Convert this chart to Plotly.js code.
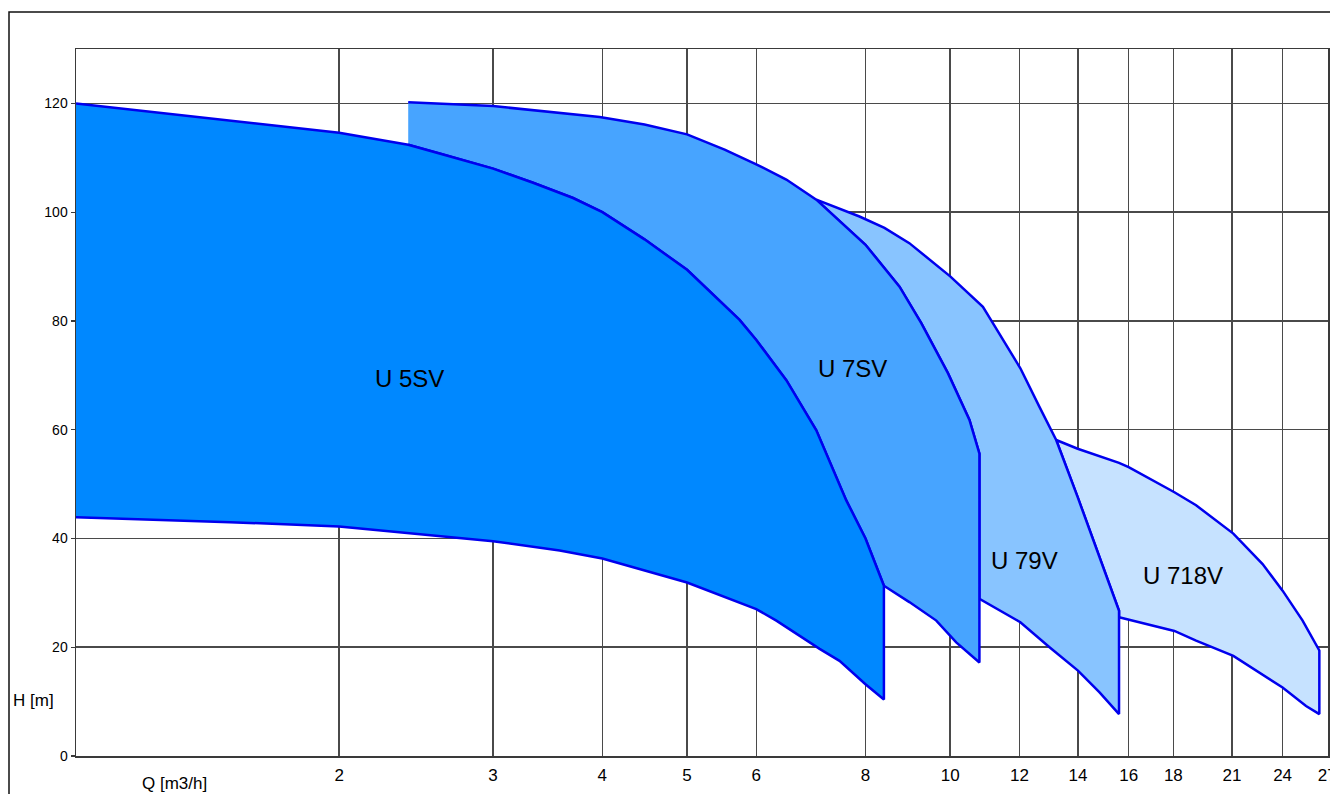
<!DOCTYPE html>
<html>
<head>
<meta charset="utf-8">
<script src="https://cdn.plot.ly/plotly-3.0.1.min.js"></script>
<style>
  html, body { margin: 0; padding: 0; background: #fff; }
  #chart { width: 1330px; height: 794px; }
</style>
</head>
<body>
<div id="chart"></div>
<script>
// ---- data (Q in m3/h, H in m) ----
const xTickVals = [2, 3, 4, 5, 6, 8, 10, 12, 14, 16, 18, 21, 24, 27];
const yTickVals = [0, 20, 40, 60, 80, 100, 120];

const q5Top = [1.0, 1.594, 2.0, 2.399, 2.607, 3.0, 3.333, 3.703, 4.0, 4.47, 5.0, 5.742, 6.0, 6.494, 7.028, 7.605, 8.0, 8.398];
const h5Top = [120, 116.4, 114.6, 112.4, 110.8, 108.0, 105.4, 102.6, 100.0, 95.0, 89.4, 80.2, 76.5, 69.1, 59.9, 47.0, 40.0, 31.3];
const q5Bot = [1.0, 1.5, 2.0, 3.0, 3.575, 4.0, 5.0, 6.0, 6.326, 7.09, 7.471, 8.0, 8.398];
const h5Bot = [43.9, 43.0, 42.2, 39.5, 37.8, 36.3, 31.9, 27.0, 24.9, 19.7, 17.5, 13.2, 10.4];

const q7Top = [2.399, 3.0, 3.972, 4.47, 5.0, 5.52, 6.0, 6.494, 7.028, 8.0, 8.75, 9.266, 9.94, 10.52, 10.8];
const h7Top = [120.2, 119.5, 117.5, 116.1, 114.3, 111.5, 108.8, 106.0, 102.3, 94.0, 86.3, 79.6, 70.4, 61.8, 55.6];
const q7Bot = [8.398, 8.98, 9.64, 10.16, 10.8];
const h7Bot = [31.3, 28.3, 24.9, 20.9, 17.2];

const q79Top = [7.028, 7.875, 8.41, 8.98, 10.0, 10.9, 11.19, 12.03, 12.65, 13.22, 13.99, 14.55, 15.6];
const h79Top = [102.3, 99.2, 97.1, 94.3, 88.2, 82.6, 79.6, 71.3, 64.2, 58.1, 47.6, 40.2, 26.7];
const q79Bot = [10.8, 12.03, 12.99, 14.0, 14.82, 15.6];
const h79Bot = [28.9, 24.6, 20.0, 15.7, 11.7, 7.7];

const q718Top = [13.22, 13.99, 15.6, 16.0, 18.05, 19.11, 21.08, 22.77, 24.0, 25.3, 26.44];
const h718Top = [58.1, 56.5, 53.9, 53.1, 48.5, 46.1, 40.9, 35.3, 30.4, 24.9, 19.4];
const q718Bot = [15.6, 16.0, 18.05, 19.11, 21.08, 24.0, 25.53, 26.44];
const h718Bot = [25.5, 25.0, 23.0, 21.2, 18.4, 12.6, 9.2, 7.7];

const labelNames = ['U 5SV', 'U 7SV', 'U 79V', 'U 718V'];
const labelQ = [2.41, 7.73, 12.16, 18.48];
const labelH = [69.5, 71.2, 35.9, 33.2];

// ---- helpers ----
function seg(q, h, qa, qb) {
  const xs = [], ys = [];
  for (let i = 0; i < q.length; i++) {
    if (q[i] >= qa - 1e-6 && q[i] <= qb + 1e-6) { xs.push(q[i]); ys.push(h[i]); }
  }
  return [xs, ys];
}
function rev(a) { return a.slice().reverse(); }

// polygons
const p5x = q5Top.concat(rev(q5Bot));
const p5y = h5Top.concat(rev(h5Bot));

const s5 = seg(q5Top, h5Top, q7Top[0], q7Bot[0]);
const p7x = q7Top.concat(rev(q7Bot), rev(s5[0]));
const p7y = h7Top.concat(rev(h7Bot), rev(s5[1]));

const s7 = seg(q7Top, h7Top, q79Top[0], q79Bot[0]);
const p79x = q79Top.concat(rev(q79Bot), rev(s7[0]));
const p79y = h79Top.concat(rev(h79Bot), rev(s7[1]));

const s79 = seg(q79Top, h79Top, q718Top[0], q718Bot[0]);
const p718x = q718Top.concat(rev(q718Bot), rev(s79[0]));
const p718y = h718Top.concat(rev(h718Bot), rev(s79[1]));

const lineCol = '#0000EE';
function poly(x, y, fill) {
  return {
    type: 'scatter', mode: 'lines', x: x, y: y,
    fill: 'toself', fillcolor: fill,
    line: { color: lineCol, width: 2.5 },
    hoverinfo: 'skip', showlegend: false
  };
}

const traces = [
  poly(p718x, p718y, '#C6E2FF'),
  poly(p79x, p79y, '#88C4FF'),
  poly(p7x, p7y, '#47A4FF'),
  poly(p5x, p5y, '#0088FF')
];

const font = 'Liberation Sans, Arial, Helvetica, sans-serif';
const annotations = labelNames.map((t, i) => ({
  text: t, x: Math.log10(labelQ[i]), y: labelH[i], xref: 'x', yref: 'y',
  showarrow: false, xanchor: 'center', yanchor: 'middle',
  font: { family: font, size: 24, color: '#000' }
}));
annotations.push({
  text: 'H [m]', xref: 'paper', yref: 'paper', x: (33 - 76) / 1252, y: (756 - 700) / 707,
  showarrow: false, xanchor: 'center', yanchor: 'middle',
  font: { family: font, size: 17, color: '#000' }
});
annotations.push({
  text: 'Q [m3/h]', xref: 'paper', yref: 'paper', x: (174 - 76) / 1252, y: (756 - 783) / 707,
  showarrow: false, xanchor: 'center', yanchor: 'middle',
  font: { family: font, size: 17, color: '#000' }
});

const layout = {
  width: 1330, height: 794,
  margin: { l: 76, r: 2, t: 49, b: 38, pad: 0 },
  paper_bgcolor: '#fff', plot_bgcolor: '#fff',
  showlegend: false,
  xaxis: {
    type: 'log', range: [0, Math.log10(27.05)],
    tickmode: 'array', tickvals: xTickVals, ticktext: xTickVals.map(String),
    ticks: 'outside', ticklen: 3, tickcolor: 'rgba(0,0,0,0)',
    ticklabeloverflow: 'allow',
    showgrid: true, gridcolor: '#4a4a4a', gridwidth: 1.5,
    showline: true, mirror: true, linecolor: '#3a3a3a', linewidth: 1.5,
    zeroline: false, tickfont: { family: font, size: 17, color: '#000' }
  },
  yaxis: {
    range: [0, 130],
    tickmode: 'array', tickvals: yTickVals, ticktext: yTickVals.map(String),
    ticks: 'outside', ticklen: 4, tickcolor: '#3a3a3a', tickwidth: 1.2,
    showgrid: true, gridcolor: '#4a4a4a', gridwidth: 1.5,
    showline: true, mirror: true, linecolor: '#3a3a3a', linewidth: 1.5,
    zeroline: false, tickfont: { family: font, size: 14, color: '#000' }
  },
  annotations: annotations,
  shapes: [{
    type: 'rect', xref: 'paper', yref: 'paper',
    x0: (9 - 76) / 1252, x1: 1.2, y0: -0.3, y1: (756 - 12) / 707,
    line: { color: '#111', width: 1.5 }, fillcolor: 'rgba(0,0,0,0)'
  }]
};

Plotly.newPlot('chart', traces, layout, { displayModeBar: false, staticPlot: true });
</script>
</body>
</html>
